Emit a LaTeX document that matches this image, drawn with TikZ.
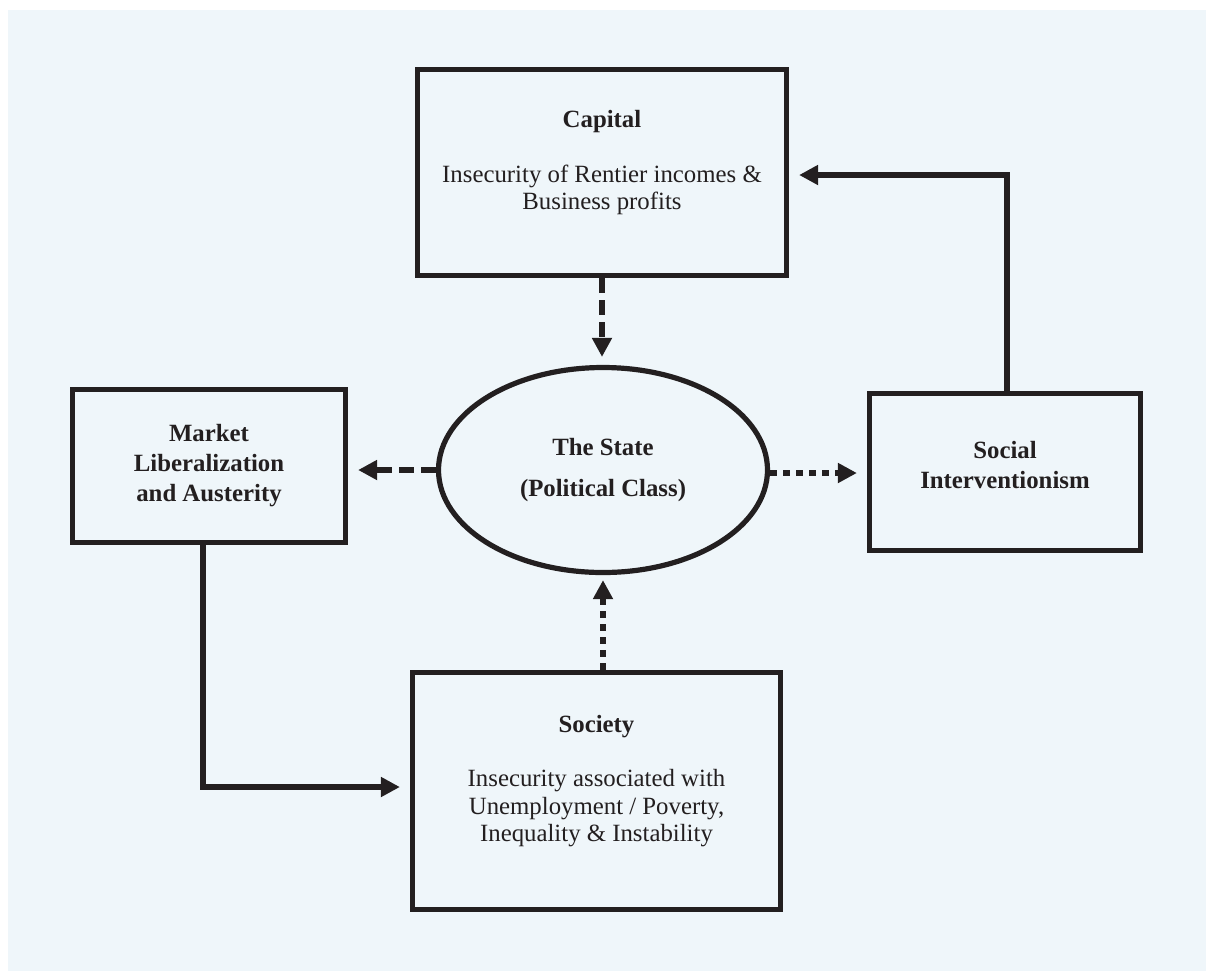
\documentclass[tikz,border=0pt]{standalone}
\usepackage{fontspec}
\setmainfont{Liberation Serif}
\usetikzlibrary{calc,shapes.geometric,arrows.meta}
\tikzstyle{block}=[draw=myink,line width=2.6pt,rectangle,inner sep=0pt,align=center,text=myink,font=\fontsize{12.4}{13.75}\selectfont]
\tikzstyle{headblock}=[block,font=\fontsize{12.4}{15}\selectfont\bfseries]
\tikzstyle{oval}=[draw=myink,line width=2.6pt,ellipse,inner sep=0pt,align=center,text=myink,font=\fontsize{12.4}{20.5}\selectfont\bfseries]
\tikzstyle{arrowline}=[myink,line width=2.6pt,shorten >=5pt]
\tikzstyle{dashline}=[arrowline,dash pattern=on 7.5pt off 3.5pt]
\tikzstyle{dotline}=[arrowline,dash pattern=on 3.5pt off 3pt]
\definecolor{myink}{RGB}{35,31,32}
\definecolor{mypaper}{RGB}{239,246,250}
\newcommand{\lowpad}[1]{\rule[-#1]{0pt}{0pt}}

\begin{document}
\begin{tikzpicture}[x=0.5pt,y=-0.5pt,>={Triangle[length=9.5pt,width=9.5pt]}]
\useasboundingbox (0, 0) rectangle (1206, 971);
\fill[mypaper] (8, 10) rectangle (1206, 971);
\draw (602, 172.5) node [block,minimum width=184.5pt,minimum height=103.25pt] (capital)
  {\textbf{Capital}\\[13.5pt] Insecurity of Rentier incomes \&\\ Business profits\lowpad{12.5pt}};
\draw (603, 470) node [oval,minimum width=164.5pt,minimum height=102.5pt] (state)
  {The State\\ (Political Class)};
\draw (209, 466) node [headblock,minimum width=136.5pt,minimum height=76.5pt] (market)
  {Market\\ Liberalization\\ and Austerity};
\draw (1005, 472) node [headblock,minimum width=135.5pt,minimum height=78.5pt] (social)
  {Social\\ Interventionism\lowpad{7pt}};
\draw (596.5, 791) node [block,minimum width=184pt,minimum height=118.5pt] (society)
  {\textbf{Society}\\[13.5pt] Insecurity associated with\\ Unemployment / Poverty,\\ Inequality \& Instability\lowpad{12.5pt}};
\draw[dashline,->,shorten >=4pt] (capital.south) -- (capital.south |- state.north);
\draw[dashline,->] (state.west) -- (state.west -| market.east);
\draw[dotline,->] ([yshift=-1.5pt]state.east) -- ([yshift=-1.5pt]state.east -| social.west);
\draw[dotline,->,shorten >=2.5pt] (state.south |- society.north) -- (state.south);
\draw[arrowline,->] ([xshift=-3pt]market.south) |- ([yshift=2pt]society.west);
\draw[arrowline,->] ([xshift=1pt]social.north) |- ([yshift=-1.25pt]capital.east);
\end{tikzpicture}
\end{document}
